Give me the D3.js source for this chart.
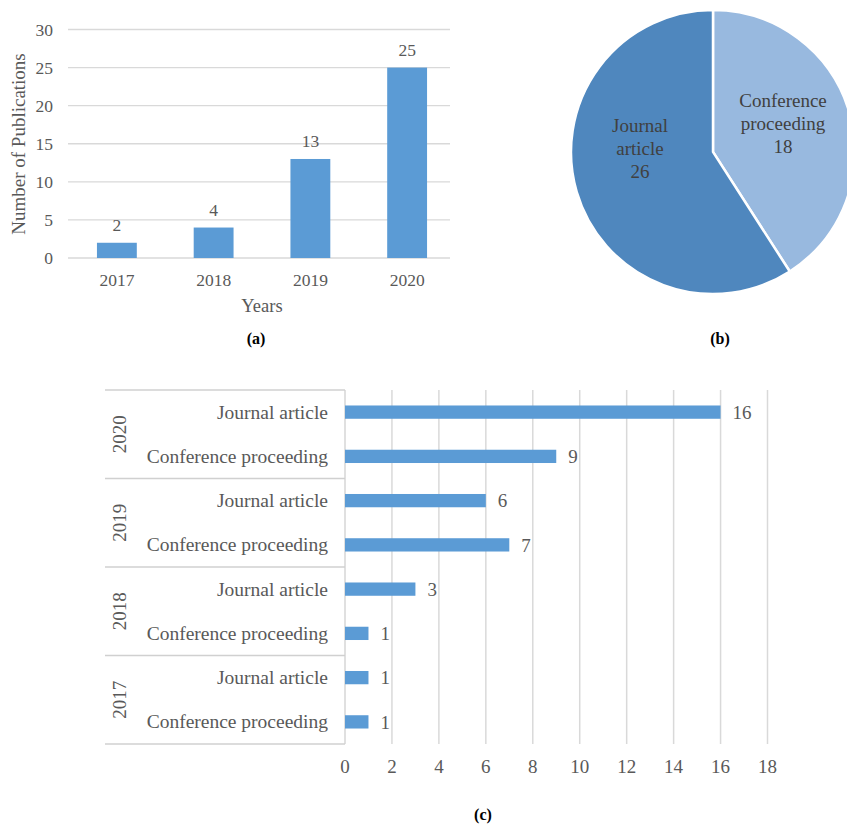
<!DOCTYPE html>
<html><head><meta charset="utf-8">
<script src="https://cdn.jsdelivr.net/npm/d3@7"></script>
<style>
body{margin:0;background:#fff;}
svg text{font-family:"Liberation Serif","Times New Roman",serif;fill:#595959;}
</style></head>
<body><svg id="c" width="847" height="825"></svg>
<script>
// ---- data ----
const years = ["2017","2018","2019","2020"];
const totals = [2,4,13,25];
const yTicksA = [0,5,10,15,20,25,30];

const pieTypes = ["Conference proceeding","Journal article"];
const pieValues = [18,26];

const groupYears = ["2020","2019","2018","2017"];
const pubTypes = ["Journal article","Conference proceeding"];
const journalByYear = [16,6,3,1];
const conferenceByYear = [9,7,1,1];
const xTicksC = [0,2,4,6,8,10,12,14,16,18];

const svg = d3.select("#c");
const grid = "#d9d9d9", blue = "#5b9bd5";

// ---- (a) bar chart ----
const gA = svg.append("g");
const yA = d3.scaleLinear().domain([0,30]).range([258,29.5]);
const xA = d3.scaleBand().domain(years).range([68.5,455.5]).paddingInner(0.588).paddingOuter(0.294);
gA.selectAll("line.g").data(yTicksA).join("line")
  .attr("x1",68).attr("x2",450).attr("y1",d=>yA(d)).attr("y2",d=>yA(d))
  .attr("stroke",grid).attr("stroke-width",1.3);
gA.selectAll("text.yt").data(yTicksA).join("text")
  .attr("x",53).attr("y",d=>yA(d)).attr("dy","0.36em").attr("text-anchor","end")
  .attr("font-size",17.5).text(d=>d);
gA.selectAll("rect").data(years).join("rect")
  .attr("x",d=>xA(d)).attr("width",xA.bandwidth())
  .attr("y",(d,i)=>yA(totals[i])).attr("height",(d,i)=>yA(0)-yA(totals[i]))
  .attr("fill",blue);
gA.selectAll("text.v").data(years).join("text")
  .attr("x",d=>xA(d)+xA.bandwidth()/2).attr("y",(d,i)=>yA(totals[i])-12)
  .attr("text-anchor","middle").attr("font-size",17.5).text((d,i)=>totals[i]);
gA.selectAll("text.xt").data(years).join("text")
  .attr("x",d=>xA(d)+xA.bandwidth()/2).attr("y",286)
  .attr("text-anchor","middle").attr("font-size",17.5).text(d=>d);
gA.append("text").attr("x",262).attr("y",312).attr("text-anchor","middle").attr("font-size",18.5).text("Years");
gA.append("text").attr("transform","translate(25,144) rotate(-90)").attr("text-anchor","middle")
  .attr("font-size",19).text("Number of Publications");
gA.append("text").attr("x",256).attr("y",344).attr("text-anchor","middle").attr("font-size",16)
  .attr("font-weight","bold").style("fill","#000").text("(a)");

// ---- (b) pie ----
const gB = svg.append("g").attr("transform","translate(713,152)");
const pie = d3.pie().sort(null).value(d=>d)(pieValues);
const arc = d3.arc().innerRadius(0).outerRadius(142);
const pieColors = ["#98b9df","#4f87be"];
gB.selectAll("path").data(pie).join("path").attr("d",arc)
  .attr("fill",(d,i)=>pieColors[i]).attr("stroke","#fff").attr("stroke-width",2.5);
const pieLabelPos = [[70,-45],[-73,-20]];
const pieLines = [["Conference","proceeding",String(pieValues[0])],["Journal","article",String(pieValues[1])]];
pieLines.forEach((lines,i)=>{
  const t = gB.append("text").attr("text-anchor","middle").attr("font-size",19).style("fill","#404040");
  lines.forEach((l,j)=>t.append("tspan").attr("x",pieLabelPos[i][0]).attr("y",pieLabelPos[i][1]+j*23).text(l));
});
svg.append("text").attr("x",720).attr("y",344).attr("text-anchor","middle").attr("font-size",16)
  .attr("font-weight","bold").style("fill","#000").text("(b)");

// ---- (c) horizontal bars ----
const gC = svg.append("g");
const rows = [];
groupYears.forEach((y,i)=>{
  rows.push({year:y,type:pubTypes[0],v:journalByYear[i]});
  rows.push({year:y,type:pubTypes[1],v:conferenceByYear[i]});
});
const rowKeys = rows.map(r=>r.year+"|"+r.type);
const xC = d3.scaleLinear().domain([0,18]).range([345,767.5]);
const yC = d3.scaleBand().domain(rowKeys).range([390,744]).paddingInner(0.7).paddingOuter(0.35);
const step = yC.step();
gC.selectAll("line.g").data(xTicksC.slice(1)).join("line")
  .attr("x1",d=>xC(d)).attr("x2",d=>xC(d)).attr("y1",390).attr("y2",744)
  .attr("stroke",grid).attr("stroke-width",1.5);
// category box
const groupBounds = [0,2,4,6,8].map(k=>390+k*step);
gC.selectAll("line.sep").data(groupBounds).join("line")
  .attr("x1",105).attr("x2",345).attr("y1",d=>d).attr("y2",d=>d)
  .attr("stroke","#d0d0d0").attr("stroke-width",1.3);
gC.append("line").attr("x1",345).attr("x2",345).attr("y1",390).attr("y2",744)
  .attr("stroke","#d0d0d0").attr("stroke-width",1.3);
gC.selectAll("rect").data(rows).join("rect")
  .attr("x",xC(0)).attr("width",d=>xC(d.v)-xC(0))
  .attr("y",(d,i)=>yC(rowKeys[i])).attr("height",yC.bandwidth()).attr("fill",blue);
gC.selectAll("text.v").data(rows).join("text")
  .attr("x",d=>xC(d.v)+12).attr("y",(d,i)=>yC(rowKeys[i])+yC.bandwidth()/2).attr("dy","0.36em")
  .attr("font-size",19).text(d=>d.v);
gC.selectAll("text.cat").data(rows).join("text")
  .attr("x",328).attr("y",(d,i)=>yC(rowKeys[i])+yC.bandwidth()/2).attr("dy","0.33em")
  .attr("text-anchor","end").attr("font-size",19.5).text(d=>d.type);
gC.selectAll("text.yr").data(groupYears).join("text")
  .attr("transform",(d,i)=>`translate(126,${390+step*(2*i+1)}) rotate(-90)`)
  .attr("text-anchor","middle").attr("font-size",19).text(d=>d);
gC.selectAll("text.xt").data(xTicksC).join("text")
  .attr("x",d=>xC(d)).attr("y",773).attr("text-anchor","middle").attr("font-size",19).text(d=>d);
svg.append("text").attr("x",483).attr("y",820).attr("text-anchor","middle").attr("font-size",16)
  .attr("font-weight","bold").style("fill","#000").text("(c)");
</script></body></html>
